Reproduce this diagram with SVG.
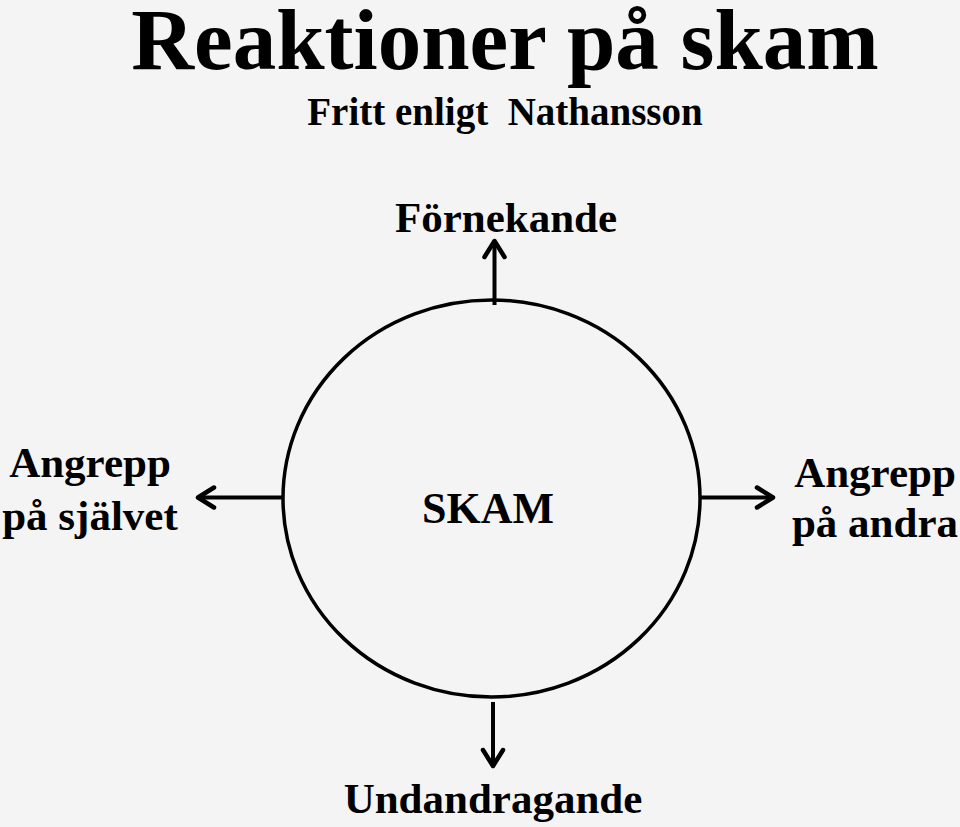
<svg xmlns="http://www.w3.org/2000/svg" width="960" height="827" viewBox="0 0 960 827">
<defs>
<style>
.t{font-family:"Liberation Serif","Times New Roman",serif;font-weight:bold;fill:#000;text-anchor:middle}
.lbl{font-size:43px}
.c{stroke:#000;stroke-width:4;fill:none}
</style>
<marker id="ah" markerUnits="userSpaceOnUse" markerWidth="30" markerHeight="30" viewBox="-20 -15 25 30" refX="0" refY="0" orient="auto">
<path d="M-16,-10 L0,0 L-16,10" fill="none" stroke="#000" stroke-width="4.5" stroke-linecap="round" stroke-linejoin="round"/>
</marker>
</defs>
<rect width="960" height="827" fill="#f4f4f4"/>
<g id="title">
<text class="t" x="505" y="69" font-size="87">Reaktioner på skam</text>
<text class="t" x="505" y="125" font-size="39" xml:space="preserve">Fritt enligt  Nathansson</text>
</g>
<g id="skam">
<ellipse cx="491.5" cy="498.5" rx="208.5" ry="198.5" fill="none" stroke="#000" stroke-width="3.5"/>
<text class="t" x="488" y="523" font-size="44">SKAM</text>
</g>
<g id="fornekande">
<text class="t lbl" x="506" y="232">Förnekande</text>
</g>
<g id="angrepp-sjalvet">
<text class="t lbl" x="90" y="477">Angrepp</text>
<text class="t lbl" x="90" y="530">på självet</text>
</g>
<g id="angrepp-andra">
<text class="t lbl" x="875" y="487">Angrepp</text>
<text class="t lbl" x="875" y="537">på andra</text>
</g>
<g id="undandragande">
<text class="t lbl" x="493" y="813">Undandragande</text>
</g>
<g id="connectors">
<line class="c" x1="494.5" y1="305" x2="494.5" y2="241" marker-end="url(#ah)"/>
<line class="c" x1="283" y1="497.5" x2="198" y2="497.5" marker-end="url(#ah)"/>
<line class="c" x1="700" y1="497.5" x2="773" y2="497.5" marker-end="url(#ah)"/>
<line class="c" x1="493" y1="702" x2="493" y2="766" marker-end="url(#ah)"/>
</g>
</svg>
